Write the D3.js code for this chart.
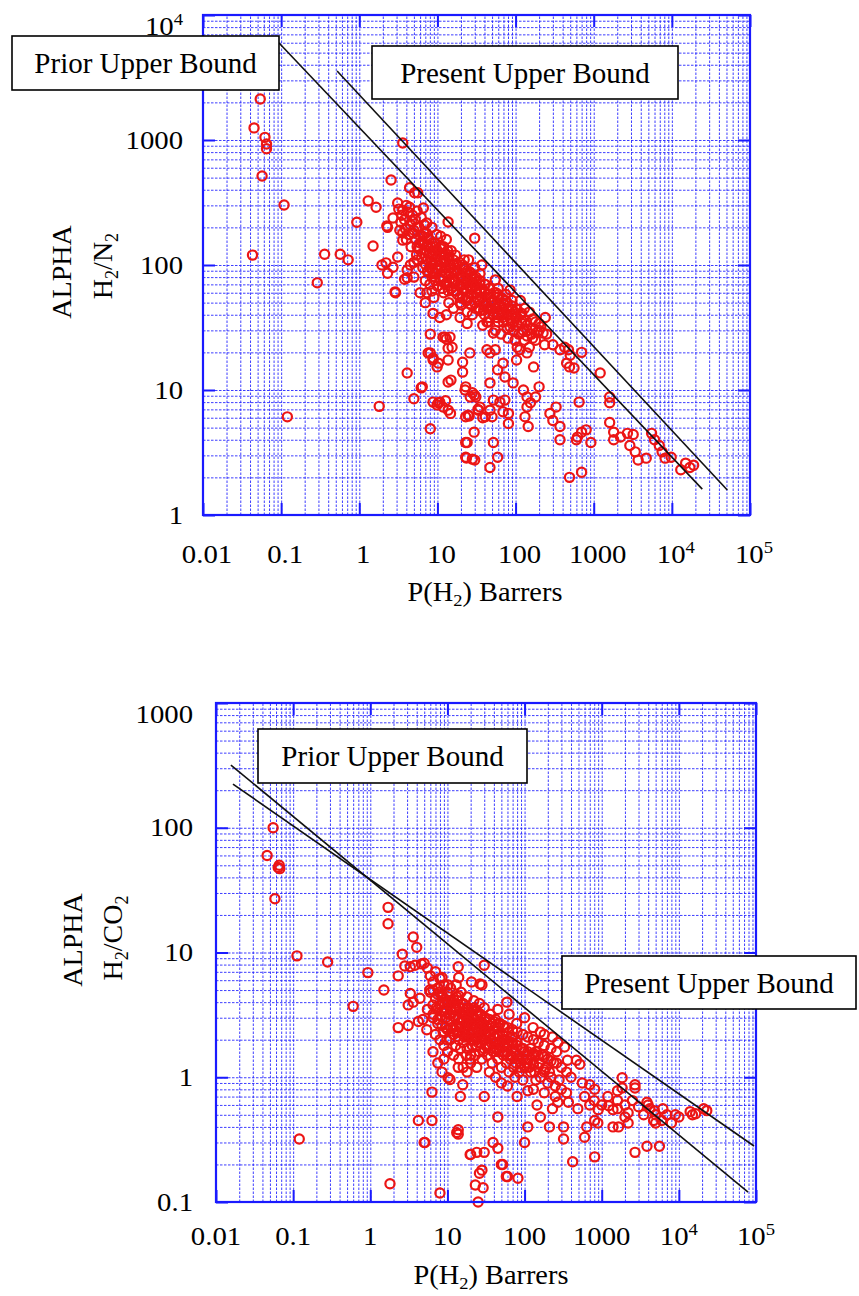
<!DOCTYPE html>
<html>
<head>
<meta charset="utf-8">
<script src="https://cdn.jsdelivr.net/npm/d3@7"></script>
<style>
  body { margin: 0; background: #fff; }
</style>
</head>
<body>
<div id="chart"></div>
<script>
var width = 859
var height = 1296
var serif = "'Liberation Serif', 'DejaVu Serif', serif"

// tick values and their labels ([text, superscript])
var xTicks = [0.01, 0.1, 1, 10, 100, 1000, 1e4, 1e5]
var xTickLabels = [["0.01"], ["0.1"], ["1"], ["10"], ["100"], ["1000"], ["10", "4"], ["10", "5"]]
var yTicksN2 = [1, 10, 100, 1000, 1e4]
var yTickLabelsN2 = [["1"], ["10"], ["100"], ["1000"], ["10", "4"]]
var yTicksCO2 = [0.1, 1, 10, 100, 1000]
var yTickLabelsCO2 = [["0.1"], ["1"], ["10"], ["100"], ["1000"]]

// upper bound lines, end points [P] and [alpha]
var priorN2P = [0.094, 24500], priorN2A = [5970, 1.61]
var presentN2P = [0.52, 51200], presentN2A = [3565, 1.585]
var priorCO2P = [0.0156, 78900], priorCO2A = [318, 0.12]
var presentCO2P = [0.0166, 94200], presentCO2A = [224, 0.281]

// H2/N2 points [P(H2), alpha]
var h2n2 = [
  [0.054,2130],[0.045,1250],[0.062,1050],[0.065,930],[0.065,850],[0.057,515],[0.109,302],[0.043,120],[0.12,6.1],
  [3.6,946],[2.55,478],[4.4,415],[5.1,378],[5.6,378],[1.3,326],[1.64,290],[0.93,220],[2.25,205],[1.5,142],
  [0.36,122],[0.57,122],[0.72,110],[0.29,72],[1.95,100],[2.3,86],[2.9,60],
  [1.8,7.4],[4.1,13.7],[5.0,8.5],[6.2,10.4],[8.1,4.9],[9.9,7.6],[10.7,8.0],[13.7,6.9],[12.7,8.2],[8.1,19.8],
  [8.8,17.4],[9.9,15.3],[13.7,17.4],[13.7,11.6],[14.9,12],[21,16.7],[21,13.9],[23,10.6],[28,9.5],[31,8.8],
  [33,7.0],[24.6,6.3],[29.5,4.6],[23,3.8],[23.5,2.86],[28,2.8],[47,2.4],[52,3.8],[38,6.0],[50,6.1],[52,8.3],
  [43,21],[47,19.8],[26,19.8],[13.7,21.6],
  [2.87,61],[3.8,77],[2.2,104],[8.1,28],[7.6,19.8],[8.8,18],[10.3,16.4],[6.4,10.6],[11.8,26.5],[13,25.6],
  [15.4,22],[8.8,8.0],[10.3,7.9],[11.8,7.3],[14.7,6.5],[22.6,10],[26.3,8.8],[29.8,9.1],[33.4,6.9],[23,6.1],
  [25.5,6.2],[35,7.3],[47,6.9],[41,6.1],[24,3.8],[23,2.9],[30,2.75],[59,2.9],[39,43.6],[43,35],[52,28.6],
  [55,21],[47,11.4],[59,14.5],[69,16.4],[73,12.7],[63,8],[73,8.3],[69,6.7],[81,5.4],[81,6.5],[93,11.4],
  [103,17.4],[113,21],[98,25],[126,10],[140,8.8],[140,7.3],[155,7.9],[132,6.1],[145,5.1],[180,8.8],[200,10.6],
  [170,15.3],[140,19.8],[165,26],[225,28.6],[200,34],[235,23],[275,6.5],[300,5.7],[330,7.3],[370,5.1],
  [370,21],[425,22],[475,21],[450,16.4],[490,15.3],[560,15],[700,20],[370,4],[490,2.0],[700,2.2],[600,4.0],
  [650,8],[620,4.2],[700,4.6],[800,4.8],[920,3.8],[1210,13.7],[1600,8.8],[1600,7.9],[1600,5.5],[1800,4.6],
  [1800,4],[2200,4.2],[2700,4.5],[3200,4.4],[2900,3.6],[3400,3.2],[3700,2.75],[4700,2.85],[5500,4.5],[6000,4],
  [6900,3.6],[7500,3.2],[8200,2.85],[9800,2.9],[13000,2.3],[15000,2.6],[17000,2.4],[19000,2.5],
  [3.1,313],[3.6,275],[4.4,290],[6.6,286],[7.3,217],[13.7,221],[2.7,238],[3.3,190],[3.6,158],[4.9,180],
  [6.0,150],[3.1,116],[2.7,96],[2.3,200],[4.1,91],[4.1,79],[7.3,60],[8.8,41],[10.7,38],[13,40],[12.5,26.5],
  [14.5,26.5],[22,110],[30,164],[24,72],[19.5,50],[24,34],[19.5,38],
  [3.2,280],[3.5,250],[3.8,230],[4.0,300],[4.2,265],[4.5,210],[4.8,250],[3.6,180],[4.0,160],[4.6,140],
  [5.0,190],[5.2,230],[5.5,270],[5.8,200],[6.0,170],[6.2,240],[5.4,120],[5.0,105],
  [6.5,150],[6.8,210],[7.0,130],[7.2,180],[7.5,110],[7.8,160],[8.0,95],[8.2,140],[8.5,200],[8.8,120],
  [9.0,85],[9.2,150],[9.5,105],[9.8,175],[6.5,95],[7.0,75],[7.5,88],[8.0,70],[8.5,62],[9.0,55],[10,130],
  [10,92],[10,68],
  [11,110],[11.5,80],[12,140],[12,60],[13,95],[13,72],[14,115],[14,50],[15,85],[15,65],[16,100],[16,45],
  [17,75],[18,90],[18,58],[19,68],[20,80],[20,48],[11,170],[12,120],[13,160],[15,130],[17,120],[19,105],
  [22,62],[22,95],[24,75],[25,55],[26,88],[28,66],[30,50],[30,78],[32,60],[34,45],[35,70],[37,55],[40,62],
  [40,40],[42,50],[45,58],[48,45],[50,52],[25,110],[30,95],[35,85],[28,40],[24,42],[45,35],[38,33],
  [55,45],[58,38],[60,55],[65,42],[70,35],[72,48],[78,40],[85,32],[90,44],[95,30],[100,38],[110,28],
  [120,34],[130,25],[140,30],[150,22],[55,30],[65,28],[80,26],[105,22],[60,65],[75,58],[90,52],
  [37,100],[55,76],[85,63],[115,52],[200,30],[300,23],[500,19],
  [3.4,220],[3.9,195],[4.3,175],[4.7,225],[5.3,160],[5.7,135],[6.3,115],[6.7,180],[7.1,100],[7.4,145],
  [7.9,125],[8.3,105],[8.7,90],[9.1,130],[9.4,75],[9.7,115],[10.5,100],[10.8,78],[11.2,140],[11.6,65],
  [12.5,105],[12.8,85],[13.5,130],[13.8,62],[14.5,95],[15.5,75],[16.5,88],[17.5,62],[18.5,78],[19.5,55],
  [21,70],[21,100],[23,85],[23,52],[25,68],[27,58],[27,80],[29,72],[31,64],[33,52],[36,62],[39,48],[41,70],
  [44,45],[46,65],[49,50],[52,40],[56,60],[62,48],[68,40],[74,52],[82,45],[88,36],[97,42],[105,33],[115,40],
  [125,30],[135,36],[160,28],[180,25],[6,60],[7,50],[5,80],[4.5,100],
  [5.5,140],[5.5,200],[5.5,110],[6.5,125],[6.5,170],[6.5,150],[7.5,140],[7.5,165],[7.5,90],
  [8.5,120],[8.5,100],[8.5,150],[8.5,80],[9.5,125],[9.5,95],[9.5,140],[9.5,85],
  [11,120],[11,95],[11,75],[11,135],[12.5,110],[12.5,88],[12.5,70],[12.5,125],
  [14,100],[14,82],[14,68],[14,120],[16,92],[16,75],[16,62],[16,110],[18,85],[18,70],[18,100],
  [21,82],[21,65],[21,95],[21,55],[24,78],[24,62],[24,90],[24,52],[27,72],[27,85],[27,48],
  [31,68],[31,55],[31,80],[31,45],[35,64],[35,52],[35,75],[35,43],[40,60],[40,48],[40,70],
  [46,55],[46,45],[46,38],[53,52],[53,42],[53,60],[60,50],[60,40],[60,58],[60,35],
  [68,46],[68,38],[68,54],[78,44],[78,36],[78,50],[78,31],[90,40],[90,34],[90,47],
  [105,38],[105,44],[120,36],[120,29],[120,41],[140,33],[140,27],[165,31],[165,37],[190,29],
  [150,42],[180,35],[210,32],[250,28],[130,45],[240,38]
]

// H2/CO2 points [P(H2), alpha]
var h2co2 = [
  [0.055,100],[0.046,60],[0.064,48],[0.067,47],[0.066,50],[0.058,27],[0.112,9.4],[0.28,8.4],[0.93,6.9],
  [1.7,23],[1.7,17],[3.6,13.3],[4.0,11],[2.6,9.7],[2.8,7.8],[2.3,6.5],[1.5,5.0],[0.6,3.7],[0.12,0.32],
  [1.8,0.14],[3.3,7.7],[3.8,7.9],[4.6,8.1],[5.0,8.2],[3.3,4.7],[3.6,4.0],[3.1,3.8],[2.3,2.5],[3.1,2.6],
  [4.2,2.8],[4.8,2.9],[5.4,2.4],[6.3,0.45],[5.1,0.30],[4.2,0.45],[6.3,0.76],[8.0,0.118],[10.2,0.99],
  [10.8,0.96],[13.8,1.2],[13.2,0.36],[13.8,0.35],[14.7,0.7],[15.8,0.87],[19.7,0.24],[24,0.25],[23,0.137],
  [25,0.10],[28,0.18],[29,0.13],[30,0.25],[30,0.7],[39,0.3],[45,0.27],[45,0.48],[52,0.2],[58,0.16],
  [13.8,7.7],[30,7.9],[20.5,5.8],[28,5.5],[14,6.3],[8.5,6.3],[10.2,5.5],[13.2,4.4],[8.8,4.0],[5.9,5.0],
  [4.4,4.3],[26.5,5.6],[59,4.0],[63,3.2],[79,2.7],[100,3.0],[129,2.5],[160,2.3],[180,2.2],[230,2.1],
  [270,1.9],[330,1.75],[360,1.37],[470,1.37],[520,1.27],[560,0.9],[700,0.87],[810,0.8],[810,0.45],
  [890,0.43],[1840,0.99],[1840,0.82],[1600,0.78],[2700,0.87],[2700,0.82],[2700,0.25],[3860,0.63],
  [4200,0.56],[4800,0.54],[3860,0.28],[5600,0.28],[6200,0.56],[4700,0.45],[5000,0.43],[14000,0.53],
  [15000,0.5],[16500,0.51],[21000,0.56],[23000,0.54],[1230,0.59],[1600,0.56],[1400,0.4],[1650,0.4],
  [2000,0.48],[2200,0.43],[640,0.4],[600,0.33],[810,0.23],[420,0.21],[320,0.32],[210,0.40],[320,0.4],
  [490,0.56],[370,0.63],[270,0.63],[230,0.56],[160,0.48],[145,0.6],[110,0.4],[110,0.78],[80,0.7],
  [13.8,0.38],[20,0.24],[26,0.17],[50,0.2],[60,0.16],[82,0.155],[100,0.3],[5,0.3],
  [5.5,7.5],[6,6.5],[6.5,5.8],[7,7],[7.5,5.2],[8,6.2],[8.5,4.6],[9,5.5],[9.5,4.2],[6,4.8],[7,4.3],[8,3.8],
  [9,3.4],[10,4.8],[10,3.9],[5.5,3.5],[6.5,3.2],[7.5,2.9],[8.5,2.6],[9.5,3.0],[10,2.4],[7,2.2],[8,2.0],
  [9,1.8],[10,1.6],[6.5,1.6],[7.5,1.3],[8.5,1.1],[9,1.4],
  [11,3.5],[11,2.8],[12,4.2],[12,3.1],[12,2.2],[13,3.6],[13,2.6],[14,4.5],[14,3.0],[14,2.0],[15,3.3],
  [15,2.5],[16,3.9],[16,2.8],[16,1.9],[17,3.1],[17,2.3],[18,3.6],[18,2.6],[18,1.7],[19,2.9],[20,3.3],
  [20,2.2],[20,1.5],[21,2.7],[22,3.0],[22,2.0],[23,2.5],[24,3.4],[24,1.8],[25,2.3],[26,2.8],[26,1.6],
  [27,2.1],[28,2.6],[28,1.4],[29,2.0],[30,2.4],[30,1.7],[12,1.5],[14,1.4],[16,1.2],[18,1.1],[20,1.3],
  [24,1.2],[11,5.2],[13,5.5],[15,4.8],[18,4.4],[22,4.1],[26,3.9],[30,3.6],
  [32,2.2],[33,1.5],[35,2.6],[35,1.8],[37,2.0],[38,1.3],[40,2.4],[40,1.6],[42,1.9],[44,2.2],[45,1.4],
  [47,1.7],[50,2.0],[50,1.2],[53,1.5],[55,1.8],[58,1.3],[60,1.6],[63,1.1],[65,1.4],[70,1.7],[72,1.2],
  [75,1.0],[80,1.4],[85,1.1],[90,1.3],[95,0.95],[100,1.2],[36,3.2],[42,2.9],[48,2.7],[55,2.5],[62,2.3],
  [70,2.1],[80,1.9],[90,1.7],[100,1.6],[45,3.5],[35,1.1],[42,1.0],[50,0.9],[60,0.85],
  [110,1.4],[120,1.1],[130,1.3],[140,0.95],[150,1.2],[160,1.0],[180,1.1],[200,0.9],[220,1.0],[250,0.85],
  [280,0.95],[300,0.8],[120,1.7],[140,1.6],[170,1.5],[200,1.4],[240,1.3],[300,1.2],[350,1.1],[400,1.0],
  [130,0.8],[180,0.75],[250,0.7],[350,0.75],
  [1000,0.6],[1200,0.7],[1400,0.55],[1600,0.65],[2000,0.6],[2200,0.52],[2500,0.65],[3000,0.58],
  [3500,0.5],[4000,0.6],[5000,0.5],[6000,0.45],[7000,0.5],[8000,0.43],[9000,0.5],[10000,0.48],
  [800,0.65],[900,0.55],[600,0.7],[700,0.6],
  [7.2,3.6],[7.8,4.8],[8.2,3.1],[8.8,2.3],[9.3,3.9],[9.8,2.0],[10.5,3.2],[10.8,2.0],[11.5,4.0],[11.8,2.5],
  [12.5,3.5],[12.8,1.8],[13.5,4.1],[13.5,2.3],[14.5,3.6],[14.8,1.7],[15.5,2.9],[16.5,3.3],[16.5,2.1],
  [17.5,2.6],[17.5,1.5],[18.5,3.1],[19,2.1],[19.5,1.4],[21,2.4],[21,1.8],[22,3.6],[23,2.1],[23,1.5],
  [25,2.7],[25,1.9],[27,2.4],[27,3.2],[29,2.7],[29,1.6],[31,2.9],[31,2.0],[33,2.5],[34,1.8],[36,2.2],
  [38,2.7],[39,1.6],[41,2.1],[43,1.7],[46,2.5],[48,1.9],[52,2.2],[54,1.6],[57,2.0],[61,1.8],[66,1.5],
  [68,1.9],[74,1.6],[77,1.3],[84,1.5],[88,1.2],[95,1.4],[105,1.3],[115,1.2],[125,1.5],[135,1.1],
  [155,1.3],[190,1.2],[210,1.1],
  [6.5,3.8],[6.5,5.0],[6.5,3.0],[7.5,3.5],[7.5,4.6],[7.5,2.7],[8.5,3.4],[8.5,4.4],[9.5,3.3],[9.5,2.5],
  [11,3.2],[11,4.1],[11,2.5],[12.5,3.0],[12.5,3.9],[12.5,2.4],[14,2.9],[14,3.7],[14,2.3],[16,2.9],
  [16,3.6],[16,2.2],[18,2.8],[18,3.5],[18,2.1],[21,2.6],[21,3.4],[21,2.0],[24,2.5],[24,3.2],[24,2.0],
  [27,2.5],[27,3.1],[27,1.9],[31,2.3],[31,3.0],[31,1.8],[35,2.3],[35,2.9],[40,2.2],[40,2.8],[40,1.7],
  [46,2.1],[46,2.7],[46,1.6],[53,2.0],[53,2.6],[60,1.9],[60,2.5],[60,1.5],[70,1.85],[70,2.4],[70,1.45],
  [80,1.8],[80,2.3],[95,1.7],[95,2.2],[110,1.6],[110,2.1],[110,1.3],[130,1.55],[130,2.0],[130,1.25],
  [150,1.5],[150,1.9],[180,1.45],[180,1.8],[180,1.15],[220,1.35],[220,1.7],[260,1.3],[260,1.6]
]

var svg = d3.select("#chart")
  .append("svg")
    .attr("width", width)
    .attr("height", height)

// text helper: pieces = [[string, "n"|"sup"|"sub"], ...]
function label(g, x, y, pieces, size, anchor, stretch, angle) {
  var t = g.append("text")
    .attr("transform", "translate(" + x + "," + y + ")" + (angle ? " rotate(" + angle + ")" : "") + " scale(" + stretch + ",1)")
    .attr("text-anchor", anchor)
    .attr("font-family", serif)
    .attr("fill", "#000")
    .style("font-size", size + "px")
  var shift = 0
  pieces.forEach(function(p) {
    var target = p[1] === "sup" ? -0.42 : p[1] === "sub" ? 0.2 : 0
    t.append("tspan")
      .attr("dy", ((target - shift) * size) + "px")
      .attr("font-family", serif)
      .style("font-size", (p[1] === "n" ? size : size * 0.65) + "px")
      .text(p[0])
    shift = target
  })
  return t
}

var panels = [
  { data: h2n2, left: 203, right: 750, top: 15, bottom: 515, yDomain: [1, 1e4],
    yTicks: yTicksN2, yLabels: yTickLabelsN2, xLabelY: 563, xLabelDx: 4, yLabelX: 183,
    bounds: [[priorN2P, priorN2A], [presentN2P, presentN2A]],
    titleX: 485, titleY: 601, alphaX: 71, alphaY: 272, ratioX: 112, ratioY: 266,
    ratio: [["H", "n"], ["2", "sub"], ["/N", "n"], ["2", "sub"]],
    boxes: [[12, 36, 279, 90, "Prior Upper Bound"], [372, 46, 678, 99, "Present Upper Bound"]] },
  { data: h2co2, left: 216, right: 756, top: 703, bottom: 1202, yDomain: [0.1, 1000],
    yTicks: yTicksCO2, yLabels: yTickLabelsCO2, xLabelY: 1245, xLabelDx: 0, yLabelX: 193,
    bounds: [[priorCO2P, priorCO2A], [presentCO2P, presentCO2A]],
    titleX: 491, titleY: 1284, alphaX: 82, alphaY: 940, ratioX: 122, ratioY: 938,
    ratio: [["H", "n"], ["2", "sub"], ["/CO", "n"], ["2", "sub"]],
    boxes: [[258, 729, 527, 783, "Prior Upper Bound"], [562, 956, 856, 1009, "Present Upper Bound"]] }
]

panels.forEach(function(p) {
  var x = d3.scaleLog().domain([0.01, 1e5]).range([p.left, p.right])
  var y = d3.scaleLog().domain(p.yDomain).range([p.bottom, p.top])
  var w = p.right - p.left, h = p.bottom - p.top
  var g = svg.append("g")

  // grid values: 1..9 times each decade inside the domain (first one is the frame)
  function gridValues(domain) {
    var vals = []
    for (var e = Math.log10(domain[0]); e < Math.log10(domain[1]); e++) {
      for (var k = 1; k <= 9; k++) vals.push(k * Math.pow(10, e))
    }
    return vals.slice(1)
  }

  g.append("g")
    .attr("class", "grid")
    .attr("transform", "translate(0," + p.bottom + ")")
    .call(d3.axisBottom(x).tickValues(gridValues(x.domain())).tickSize(-h).tickFormat(""))
  g.append("g")
    .attr("class", "grid")
    .attr("transform", "translate(" + p.left + ",0)")
    .call(d3.axisLeft(y).tickValues(gridValues(y.domain())).tickSize(-w).tickFormat(""))
  g.selectAll(".grid .domain").remove()
  g.selectAll(".grid line")
    .attr("stroke", "#1c1cff")
    .attr("stroke-width", 1)
    .attr("stroke-dasharray", "2.5,1.5")
    .attr("opacity", 0.85)

  // data points
  g.selectAll("circle")
    .data(p.data)
    .enter()
    .append("circle")
      .attr("cx", function(d) { return x(d[0]) })
      .attr("cy", function(d) { return y(d[1]) })
      .attr("r", 4.6)
      .attr("fill", "none")
      .attr("stroke", "#ec1515")
      .attr("stroke-width", 2.2)

  // upper bound lines
  var line = d3.line()
    .x(function(d) { return x(d[0]) })
    .y(function(d) { return y(d[1]) })
  p.bounds.forEach(function(b) {
    g.append("path")
      .datum(d3.zip(b[0], b[1]))
      .attr("d", line)
      .attr("fill", "none")
      .attr("stroke", "#111")
      .attr("stroke-width", 1.6)
  })

  // frame
  g.append("rect")
    .attr("x", p.left).attr("y", p.top)
    .attr("width", w).attr("height", h)
    .attr("fill", "none")
    .attr("stroke", "#1a1aff")
    .attr("stroke-width", 2.2)

  // major inward ticks on all four sides
  var tk = [
    [d3.axisBottom(x).tickValues(xTicks), "translate(0," + p.bottom + ")"],
    [d3.axisTop(x).tickValues(xTicks), "translate(0," + p.top + ")"],
    [d3.axisLeft(y).tickValues(p.yTicks), "translate(" + p.left + ",0)"],
    [d3.axisRight(y).tickValues(p.yTicks), "translate(" + p.right + ",0)"]
  ]
  tk.forEach(function(a) {
    g.append("g")
      .attr("class", "major")
      .attr("transform", a[1])
      .call(a[0].tickSize(-12).tickFormat(""))
  })
  g.selectAll(".major .domain").remove()
  g.selectAll(".major line").attr("stroke", "#1a1aff").attr("stroke-width", 2)

  // tick labels
  xTicks.forEach(function(v, i) {
    var lab = xTickLabels[i]
    var pieces = [[lab[0], "n"]]
    if (lab[1]) pieces.push([lab[1], "sup"])
    label(g, x(v) + p.xLabelDx, p.xLabelY, pieces, 25, "middle", 1.15)
  })
  p.yTicks.forEach(function(v, i) {
    var lab = p.yLabels[i]
    var pieces = [[lab[0], "n"]]
    if (lab[1]) pieces.push([lab[1], "sup"])
    var yy = y(v) + 8.5
    if (yy < p.top + 10) yy = p.top + 20
    label(g, p.yLabelX, yy, pieces, 25, "end", 1.15)
  })

  // axis titles
  label(g, p.titleX, p.titleY,
    [["P(H", "n"], ["2", "sub"], [") Barrers", "n"]], 27, "middle", 1.05)
  label(g, p.alphaX, p.alphaY, [["ALPHA", "n"]], 28, "middle", 1.0, -90)
  label(g, p.ratioX, p.ratioY, p.ratio, 28, "middle", 1.0, -90)

  // annotation boxes
  p.boxes.forEach(function(b) {
    g.append("rect")
      .attr("x", b[0]).attr("y", b[1])
      .attr("width", b[2] - b[0]).attr("height", b[3] - b[1])
      .attr("fill", "#fff")
      .attr("stroke", "#000")
      .attr("stroke-width", 1.6)
    label(g, (b[0] + b[2]) / 2, (b[1] + b[3]) / 2 + 10, [[b[4], "n"]], 29, "middle", 1.0)
  })
})
</script>
</body>
</html>
